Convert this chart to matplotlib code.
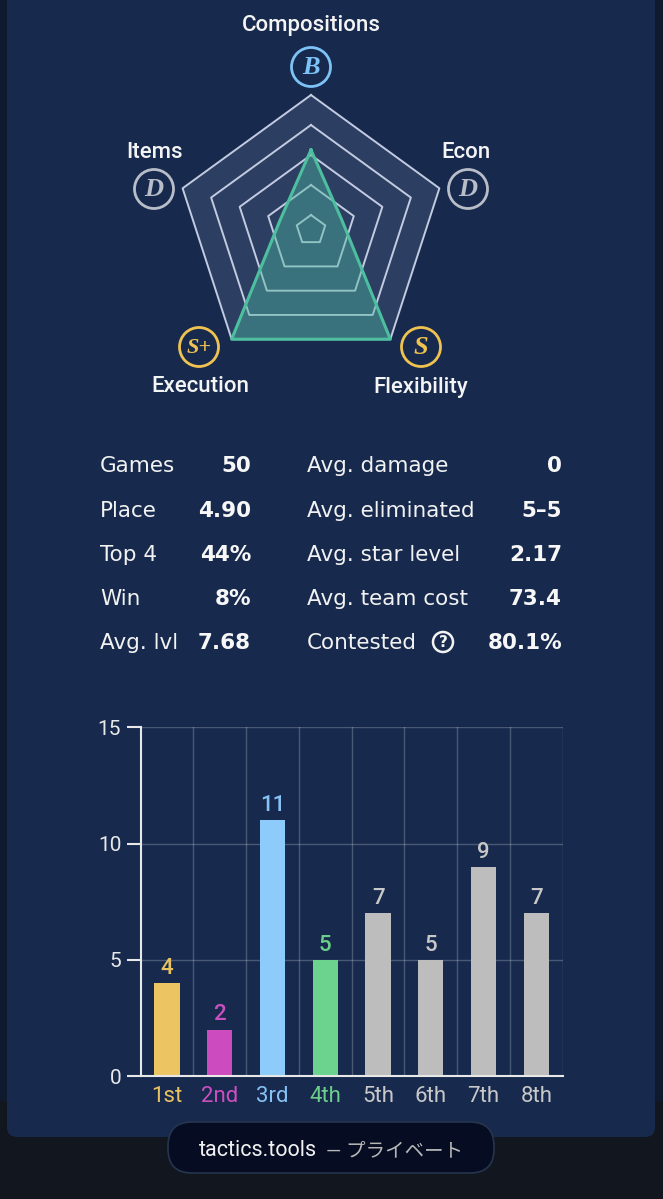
import numpy as np
import matplotlib
matplotlib.use("Agg")
import matplotlib.pyplot as plt
from matplotlib.patches import FancyBboxPatch, Circle, Rectangle

# radar data (scale 0..4.5, rings every 1.0 starting at 0.5)
radar_axes = ["Compositions", "Econ", "Flexibility", "Execution", "Items"]
radar_values = [2.67, 1.08, 4.5, 4.5, 1.08]
radar_grades = ["B", "D", "S", "S+", "D"]
ring_levels = [0.5, 1.5, 2.5, 3.5, 4.5]

# stats table
left_labels = ["Games", "Place", "Top 4", "Win", "Avg. lvl"]
left_values = ["50", "4.90", "44%", "8%", "7.68"]
right_labels = ["Avg. damage", "Avg. eliminated", "Avg. star level", "Avg. team cost", "Contested"]
right_values = ["0", "5–5", "2.17", "73.4", "80.1%"]

# placement histogram
places = ["1st", "2nd", "3rd", "4th", "5th", "6th", "7th", "8th"]
counts = [4, 2, 11, 5, 7, 5, 9, 7]
bar_colors = ["#ecc462", "#cc4cbf", "#8ccbfa", "#6bd38e", "#bdbdbd", "#bdbdbd", "#bdbdbd", "#bdbdbd"]
label_colors = ["#e8c160", "#cc4fc0", "#86c2f5", "#6bcf8a", "#c8c8c8", "#c8c8c8", "#c8c8c8", "#c8c8c8"]

W, H = 663, 1199
fig = plt.figure(figsize=(W / 100, H / 100), dpi=100)
fig.patch.set_facecolor("#12171f")


def px_rect(left, top, width, height):
    return [left / W, 1 - (top + height) / H, width / W, height / H]


# background / panel
bg = fig.add_axes([0, 0, 1, 1])
bg.set_xlim(0, W)
bg.set_ylim(H, 0)
bg.axis("off")
bg.add_patch(Rectangle((0, 0), W, 1100, color="#101a2e", zorder=0))
bg.add_patch(FancyBboxPatch((7, -40), 648, 1177, boxstyle="round,pad=0,rounding_size=10",
                            fc="#172a4e", ec="none", zorder=1))

# pill at the bottom
bg.add_patch(FancyBboxPatch((168, 1122), 326, 51, boxstyle="round,pad=0,rounding_size=24",
                            fc="#060d22", ec="#26354d", lw=1.2, zorder=2))
bg.text(199, 1156, "tactics.tools", color="#f2f2f2", fontsize=15.5, family="Roboto",
        ha="left", va="baseline", zorder=3)
bg.text(326, 1156, "— プライベート", color="#b8b8b8", fontsize=14,
        family=["Roboto", "Noto Sans CJK JP"], ha="left", va="baseline", zorder=3)

# radar labels and grade badges
label_pos = {"Compositions": (311, 26), "Items": (155, 153), "Econ": (466, 153),
             "Execution": (200, 387), "Flexibility": (421, 387)}
badge_pos = {"Compositions": (311, 67), "Items": (154, 189), "Econ": (468, 189),
             "Execution": (199, 347), "Flexibility": (421, 347)}
grade_color = {"B": "#7ec3f5", "D": "#b9bdc8", "S": "#f0c250", "S+": "#f0c250"}
for name, grade in zip(radar_axes, radar_grades):
    lx, ly = label_pos[name]
    bg.text(lx, ly, name, color="#f4f4f4", fontsize=16, family="Roboto", fontweight="medium",
            ha="center", va="center", zorder=3)
    bx, by = badge_pos[name]
    c = grade_color[grade]
    bg.add_patch(Circle((bx, by), 19.5, fc="none", ec=c, lw=2, zorder=3))
    bg.text(bx, by + 1, grade, color=c, fontsize=19 if len(grade) == 1 else 16,
            family="Liberation Serif", style="italic", fontweight="bold",
            ha="center", va="center", zorder=3)

# stats
baselines = [472.5, 516.7, 560.8, 605, 649]
for i in range(5):
    y = baselines[i]
    bg.text(100, y, left_labels[i], color="#f2f2f2", fontsize=15.5, family="DejaVu Sans",
            ha="left", va="baseline", zorder=3)
    bg.text(251, y, left_values[i], color="#f7f7f7", fontsize=15.5, family="DejaVu Sans",
            fontweight="bold", ha="right", va="baseline", zorder=3)
    bg.text(307, y, right_labels[i], color="#f2f2f2", fontsize=15.5, family="DejaVu Sans",
            ha="left", va="baseline", zorder=3)
    bg.text(562, y, right_values[i], color="#f7f7f7", fontsize=15.5, family="DejaVu Sans",
            fontweight="bold", ha="right", va="baseline", zorder=3)
bg.add_patch(Circle((443, 642), 10, fc="none", ec="#f2f2f2", lw=1.8, zorder=3))
bg.text(443, 642.5, "?", color="#f2f2f2", fontsize=11, family="DejaVu Sans", fontweight="bold",
        ha="center", va="center", zorder=3)

# radar
rad = fig.add_axes(px_rect(311 - 202.5, 230 - 202.5, 405, 405))
rad.set_xlim(-6.75, 6.75)
rad.set_ylim(-6.75, 6.75)
rad.axis("off")
rad.patch.set_alpha(0)
ang = np.deg2rad([90, 18, -54, -126, 162])
ang_c = np.append(ang, ang[0])
outer = ring_levels[-1]
rad.fill(outer * np.cos(ang_c), outer * np.sin(ang_c), color="#2c3f63", zorder=1, lw=0)
for r in ring_levels:
    rad.plot(r * np.cos(ang_c), r * np.sin(ang_c), color="#c3cbe0", lw=1.4, zorder=2)
vals = np.append(radar_values, radar_values[0])
rad.fill(vals * np.cos(ang_c), vals * np.sin(ang_c), color="#4cb8a0", alpha=0.42, lw=0, zorder=3)
rad.plot(vals * np.cos(ang_c), vals * np.sin(ang_c), color="#4dbf9f", lw=2.2, zorder=4)

# bar chart
ax = fig.add_axes(px_rect(140.7, 727.3, 422, 348.7))
ax.patch.set_alpha(0)
x = np.arange(len(places))
ax.bar(x, counts, width=0.48, color=bar_colors, zorder=3)
for xi, v, c in zip(x, counts, label_colors):
    ax.annotate(str(v), (xi, v), xytext=(0, 3), textcoords="offset points", ha="center",
                va="bottom", color=c, fontsize=16, family="Roboto", fontweight="medium")
ax.set_xlim(-0.5, 7.5)
ax.set_ylim(0, 15)
ax.set_yticks([0, 5, 10, 15])
ax.set_xticks(x)
ax.set_xticklabels(places, family="Roboto", fontsize=16)
for t, c in zip(ax.get_xticklabels(), label_colors):
    t.set_color(c)
ax.set_xticks(np.arange(0.5, 8, 1), minor=True)
ax.tick_params(axis="x", which="both", length=0, pad=7)
ax.tick_params(axis="y", length=10, width=1.5, color="#e8e8e8", labelcolor="#e8e8e8",
               labelsize=15, pad=4)
for t in ax.get_yticklabels():
    t.set_family("Roboto")
ax.grid(True, axis="y", which="major", color="#ffffff", alpha=0.22, lw=1, zorder=0)
ax.grid(True, axis="x", which="minor", color="#ffffff", alpha=0.22, lw=1, zorder=0)
for s in ["top", "right"]:
    ax.spines[s].set_visible(False)
for s in ["left", "bottom"]:
    ax.spines[s].set_color("#e8e8e8")
    ax.spines[s].set_linewidth(1.5)
    ax.spines[s].set_zorder(4)

plt.savefig("out.png", dpi=100, facecolor=fig.get_facecolor())
